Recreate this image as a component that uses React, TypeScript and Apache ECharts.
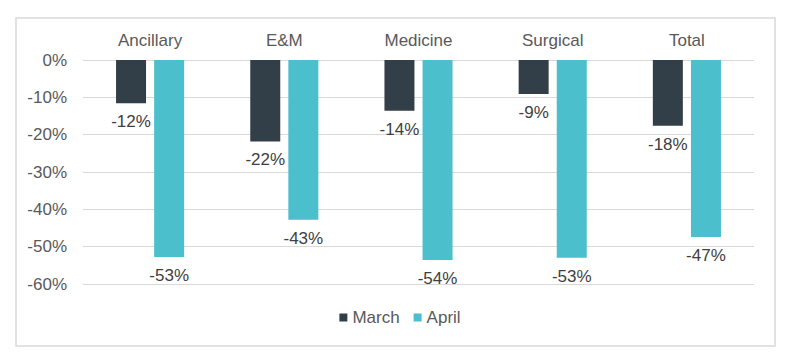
import React, { useEffect, useRef } from "react";
import * as echarts from "echarts";

const categories = ["Ancillary", "E&M", "Medicine", "Surgical", "Total"];
const marchValues = [-11.6, -21.8, -13.6, -9.1, -17.6];
const aprilValues = [-52.8, -42.8, -53.6, -53.0, -47.4];
const seriesNames = ["March", "April"];
const colors = ["#333F48", "#4BBFCC"];

const FONT = "'Liberation Sans', Arial, sans-serif";
const TEXT = "#595959";
const FS = 17;

export default function App() {
  const ref = useRef<HTMLDivElement>(null);
  useEffect(() => {
    if (!ref.current) return;
    const chart = echarts.init(ref.current, undefined, { renderer: "svg" });
    const label = {
      show: true,
      position: "outside" as const,
      distance: 10,
      color: "#404040",
      fontSize: FS,
      fontFamily: FONT,
      formatter: (p: any) => Math.round(p.value) + "%",
    };
    chart.setOption({
      animation: false,
      textStyle: { fontFamily: FONT },
      graphic: [
        {
          type: "rect",
          shape: { x: 16, y: 18, width: 759, height: 328 },
          style: { fill: "none", stroke: "#D9D9D9", lineWidth: 1.5 },
          silent: true,
        },
      ],
      grid: { left: 83, right: 46, top: 60, bottom: 80 },
      legend: {
        data: seriesNames,
        bottom: 33,
        left: "center",
        icon: "rect",
        itemWidth: 8,
        itemHeight: 8,
        itemGap: 14,
        itemTextGap: 4,
        textStyle: { color: TEXT, fontSize: FS, fontFamily: FONT },
      },
      xAxis: {
        type: "category",
        data: categories,
        position: "top",
        axisLine: { show: false },
        axisTick: { show: false },
        axisLabel: { color: TEXT, fontSize: FS, fontFamily: FONT, margin: 11 },
      },
      yAxis: {
        type: "value",
        min: -60,
        max: 0,
        interval: 10,
        axisLine: { show: false },
        axisTick: { show: false },
        splitLine: { lineStyle: { color: "#D9D9D9", width: 1 } },
        axisLabel: {
          color: TEXT,
          fontSize: FS,
          fontFamily: FONT,
          margin: 16,
          formatter: (v: number) => v + "%",
        },
      },
      series: [
        {
          name: seriesNames[0],
          type: "bar",
          data: marchValues,
          barWidth: 30,
          barGap: "27%",
          itemStyle: { color: colors[0] },
          label,
        },
        {
          name: seriesNames[1],
          type: "bar",
          data: aprilValues,
          barWidth: 30,
          barGap: "27%",
          itemStyle: { color: colors[1] },
          label,
        },
      ],
    });
    return () => chart.dispose();
  }, []);
  return (
    <div
      ref={ref}
      style={{ position: "absolute", left: 0, top: 0, width: 800, height: 364, background: "#fff" }}
    />
  );
}
